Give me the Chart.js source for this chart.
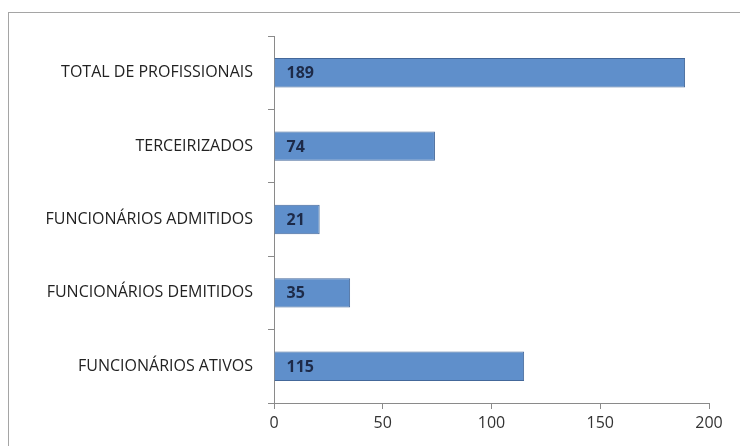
<!DOCTYPE html>
<html>
<head>
<meta charset="utf-8">
<script src="https://cdn.jsdelivr.net/npm/chart.js@4/dist/chart.umd.min.js"></script>
<style>
  html, body { margin: 0; padding: 0; background: #fff; }
  #frame { position: absolute; left: 8px; top: 12px; width: 760px; height: 460px; border: 1px solid #a5a5a5; box-sizing: border-box; }
  #wrap { position: absolute; left: 0; top: 0; width: 740px; height: 446px; }
</style>
</head>
<body>
<div id="frame"></div>
<div id="wrap"><canvas id="myChart" width="740" height="446"></canvas></div>
<script>
const categories = [
    "TOTAL DE PROFISSIONAIS",
    "TERCEIRIZADOS",
    "FUNCIONÁRIOS ADMITIDOS",
    "FUNCIONÁRIOS DEMITIDOS",
    "FUNCIONÁRIOS ATIVOS"
];
const values = [189, 74, 21, 35, 115];
const xTicks = [0, 50, 100, 150, 200];

const fontFamily = "'Open Sans', 'Noto Sans', sans-serif";

// value labels drawn inside each bar, near the base
const insideLabels = {
    id: "insideLabels",
    afterDatasetsDraw(chart) {
        const ctx = chart.ctx;
        const meta = chart.getDatasetMeta(0);
        ctx.save();
        ctx.font = "bold 16px " + fontFamily;
        ctx.fillStyle = "#1d2a48";
        ctx.textBaseline = "middle";
        ctx.textAlign = "left";
        meta.data.forEach((bar, i) => {
            ctx.fillText(String(values[i]), bar.base + 12, bar.y + 1);
        });
        ctx.restore();
    }
};

new Chart(document.getElementById("myChart"), {
    type: "bar",
    data: {
        labels: categories,
        datasets: [
            {
                data: values,
                backgroundColor: "#5f8fcb",
                borderColor: "#44689a",
                borderWidth: 1,
                categoryPercentage: 1,
                barPercentage: 0.4
            }
        ]
    },
    options: {
        indexAxis: "y",
        responsive: false,
        animation: false,
        layout: { padding: { left: 0, top: 36, right: 31, bottom: 0 } },
        plugins: {
            legend: { display: false },
            tooltip: { enabled: false }
        },
        scales: {
            x: {
                min: 0,
                max: 200,
                afterBuildTicks(scale) {
                    scale.ticks = xTicks.map(v => ({ value: v }));
                },
                afterFit(scale) { scale.height = 43; },
                grid: { drawOnChartArea: false, drawTicks: true, tickLength: 6, color: "#8a8a8a" },
                border: { display: true, color: "#8a8a8a" },
                ticks: { color: "#333", padding: 5, font: { family: fontFamily, size: 16 } }
            },
            y: {
                afterFit(scale) { scale.width = 274; },
                grid: { drawOnChartArea: false, drawTicks: true, tickLength: 6, offset: true, color: "#8a8a8a" },
                border: { display: true, color: "#8a8a8a" },
                ticks: { color: "#222", padding: 15, font: { family: fontFamily, size: 16 } }
            }
        }
    },
    plugins: [insideLabels]
});
</script>
</body>
</html>
